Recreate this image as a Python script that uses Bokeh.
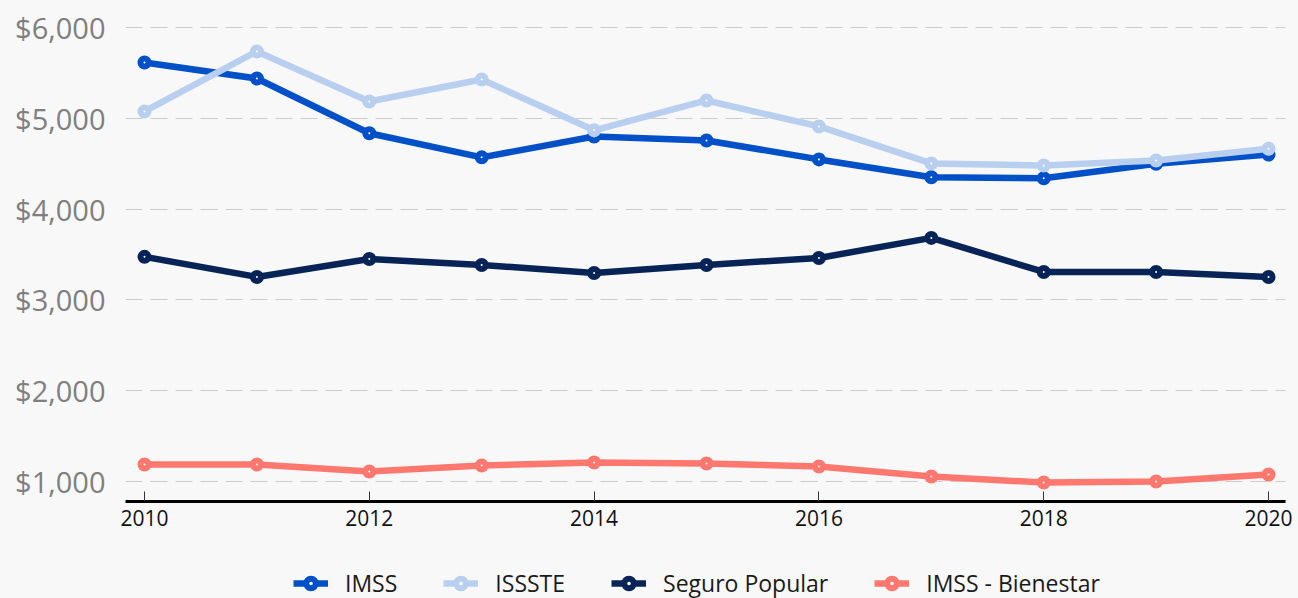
from bokeh.plotting import figure
from bokeh.layouts import column
from bokeh.models import (Range1d, FixedTicker, NumeralTickFormatter, Legend, LegendItem)
from bokeh.embed import file_html
from bokeh.resources import INLINE

years = [2010, 2011, 2012, 2013, 2014, 2015, 2016, 2017, 2018, 2019, 2020]
imss = [5615, 5438, 4835, 4570, 4800, 4756, 4547, 4350, 4340, 4500, 4600]
issste = [5075, 5736, 5185, 5427, 4868, 5196, 4910, 4503, 4480, 4535, 4665]
seguro_popular = [3474, 3253, 3451, 3385, 3297, 3385, 3462, 3683, 3308, 3308, 3253]
imss_bienestar = [1187, 1187, 1110, 1176, 1209, 1198, 1165, 1055, 989, 1000, 1077]

series_names = ["IMSS", "ISSSTE", "Seguro Popular", "IMSS - Bienestar"]
series_values = [imss, issste, seguro_popular, imss_bienestar]
series_colors = ["#0050c8", "#b8cff0", "#082457", "#ff7870"]

x_ticks = [2010, 2012, 2014, 2016, 2018, 2020]
y_ticks = [1000, 2000, 3000, 4000, 5000, 6000]

BG = "#f8f8f8"

p = figure(width=1298, height=540, output_backend="svg", toolbar_location=None,
           x_range=Range1d(2009.831, 2020.151), y_range=Range1d(780, 6297),
           min_border_left=125, min_border_right=13, min_border_top=0,
           min_border_bottom=39)
p.background_fill_color = BG
p.border_fill_color = BG
p.outline_line_color = None

for name, vals, col in zip(series_names, series_values, series_colors):
    p.line(years, vals, line_color=col, line_width=6.5)
    p.scatter(years, vals, size=8, line_width=6, line_color=col, fill_color="white")

# x axis
xa = p.xaxis[0]
xa.ticker = FixedTicker(ticks=x_ticks)
xa.axis_line_color = "black"
xa.axis_line_width = 3
xa.major_tick_in = 10
xa.major_tick_out = 0
xa.major_tick_line_color = "#333333"
xa.minor_tick_line_color = None
xa.major_label_text_font = "Open Sans"
xa.major_label_text_font_size = "21px"
xa.major_label_text_color = "#111111"
xa.major_label_standoff = 8

# y axis
ya = p.yaxis[0]
ya.ticker = FixedTicker(ticks=y_ticks)
ya.formatter = NumeralTickFormatter(format="$0,0")
ya.axis_line_color = None
ya.major_tick_line_color = None
ya.minor_tick_line_color = None
ya.major_label_text_font = "Open Sans"
ya.major_label_text_font_size = "29px"
ya.major_label_text_color = "#7f7f7f"
ya.major_label_standoff = 14

p.xgrid.grid_line_color = None
p.ygrid.grid_line_color = "#cccccc"
p.ygrid.grid_line_dash = "17 8"
p.ygrid.grid_line_width = 1

# legend strip (series drawn out of view; only the legend shows)
p2 = figure(width=1298, height=58, output_backend="svg", toolbar_location=None,
            x_range=Range1d(0, 1), y_range=Range1d(0, 1),
            min_border_left=125, min_border_right=13, min_border_top=0, min_border_bottom=0)
p2.background_fill_color = BG
p2.border_fill_color = BG
p2.outline_line_color = None
p2.axis.visible = False
p2.grid.visible = False

items = []
for name, vals, col in zip(series_names, series_values, series_colors):
    r1 = p2.line(years, vals, line_color=col, line_width=6.5)
    r2 = p2.scatter(years, vals, size=8, line_width=6, line_color=col, fill_color="white")
    items.append(LegendItem(label=name, renderers=[r1, r2]))

legend = Legend(items=items, orientation="horizontal", location=(168, -1),
                label_text_font="Open Sans", label_text_font_size="23px",
                label_text_color="#1a1a1a", glyph_width=35, glyph_height=24,
                label_height=24, label_standoff=17, spacing=46, padding=0, margin=0,
                border_line_color=None, background_fill_alpha=0)
p2.add_layout(legend, "center")

layout = column(p, p2, spacing=0)
layout.styles = {"background-color": BG}

open("out.html", "w").write(file_html(layout, INLINE))
